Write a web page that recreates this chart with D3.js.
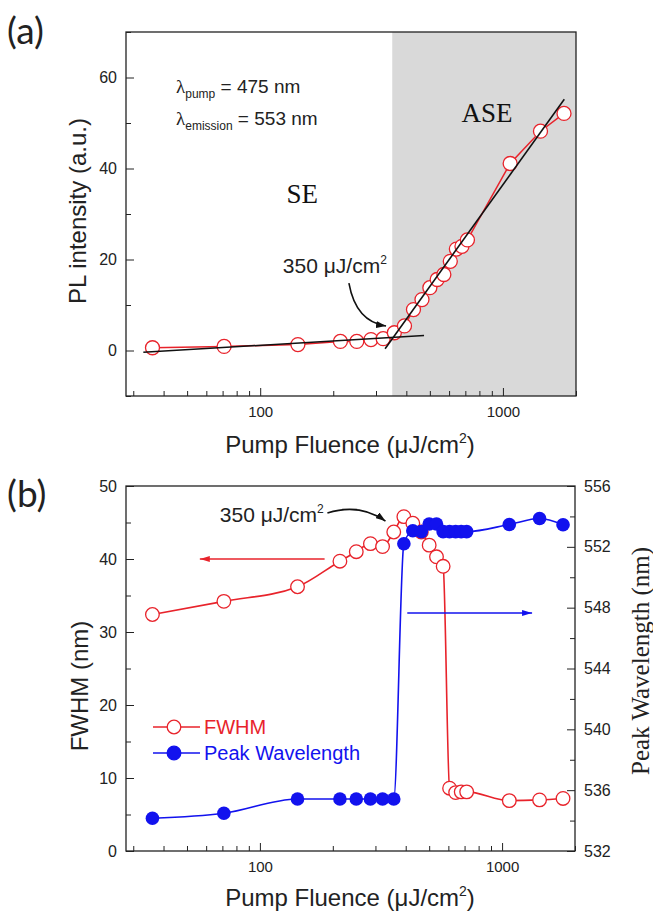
<!DOCTYPE html>
<html>
<head>
<meta charset="utf-8">
<script src="https://cdn.jsdelivr.net/npm/d3@7"></script>
<style>
  body { margin: 0; background: #fff; }
</style>
</head>
<body>
<script>
// pump fluence (uJ/cm2), shared by both panels
const fluence = [36, 71, 143, 214, 250, 286, 321, 357, 393, 428, 464, 500, 536, 571, 607, 643, 678, 714, 1071, 1428, 1785]
// (a) PL intensity (a.u.)
const plIntensity = [0.6, 0.9, 1.3, 2.0, 2.0, 2.4, 2.6, 3.9, 5.4, 9.0, 11.2, 13.8, 15.6, 16.7, 19.6, 22.3, 22.9, 24.3, 41.1, 48.2, 52.1]
// linear fits (in log fluence), endpoints
const fitSE = [[33, -0.4], [473, 3.3]]
const fitASE = [[327, 0.4], [1790, 55.2]]
const aseThreshold = 350
// (b) FWHM (nm) and peak wavelength (nm)
const fwhm = [32.4, 34.2, 36.2, 39.7, 41.0, 42.1, 41.7, 43.7, 45.8, 44.9, 43.7, 41.9, 40.3, 39.0, 8.6, 8.0, 8.1, 8.1, 6.9, 7.0, 7.2]
const peakWl = [534.15, 534.48, 535.42, 535.42, 535.42, 535.42, 535.42, 535.42, 552.2, 553.06, 553.0, 553.5, 553.5, 553.0, 553.0, 553.0, 553.0, 553.0, 553.47, 553.86, 553.45]

const xTicks = [100, 1000]
const yTicksPL = [0, 20, 40, 60]
const yTicksFwhm = [0, 10, 20, 30, 40, 50]
const yTicksWl = [532, 536, 540, 544, 548, 552, 556]

const width = 653, height = 913
const red = "#e8232b", blue = "#1212ee", ink = "#222"
const sans = "Liberation Sans, Arial, sans-serif", serif = "Liberation Serif, Times New Roman, serif"

const svg = d3.select("body").append("svg").attr("width", width).attr("height", height)
  .attr("font-family", sans)

const pa = {left: 126, right: 576, top: 32, bottom: 396}
const pb = {left: 126, right: 575, top: 486, bottom: 851}

const xa = d3.scaleLog().domain([28, 2000]).range([pa.left, pa.right])
const xb = d3.scaleLog().domain([28, 2000]).range([pb.left, pb.right])
const yPL = d3.scaleLinear().domain([-10, 70]).range([pa.bottom, pa.top])
const yF = d3.scaleLinear().domain([0, 50]).range([pb.bottom, pb.top])
const yW = d3.scaleLinear().domain([532, 556]).range([pb.bottom, pb.top])

const defs = svg.append("defs")
const head = (id, color, w, h) => defs.append("marker").attr("id", id)
  .attr("viewBox", `0 0 ${w} ${h}`).attr("refX", w).attr("refY", h / 2)
  .attr("markerWidth", w).attr("markerHeight", h).attr("markerUnits", "userSpaceOnUse")
  .attr("orient", "auto")
  .append("path").attr("d", `M0,0L${w},${h / 2}L0,${h}Z`).attr("fill", color)
head("hk", "#111", 10, 7)
head("hr", red, 10, 6)
head("hb", blue, 10, 6)

const style = g => g.call(s => s.select(".domain").remove())
  .attr("font-family", sans).attr("font-size", 15)
  .attr("color", ink)

function xAxis(x, y0) {
  const minor = x.ticks().filter(v => !xTicks.includes(v))
  svg.append("g").attr("transform", `translate(0,${y0})`)
    .call(d3.axisBottom(x).tickValues(minor).tickSize(-5).tickFormat(""))
    .call(style)
  svg.append("g").attr("transform", `translate(0,${y0})`)
    .call(d3.axisBottom(x).tickValues(xTicks).tickSize(-8).tickPadding(10.5).tickFormat(d3.format("d")))
    .call(style)
}

function yAxis(y, x0, majors, step, right) {
  const minor = d3.range(y.domain()[0], y.domain()[1] + 0.001, step).filter(v => !majors.includes(v))
  const ax = right ? d3.axisRight : d3.axisLeft
  svg.append("g").attr("transform", `translate(${x0},0)`)
    .call(ax(y).tickValues(minor).tickSize(-5).tickFormat(""))
    .call(style)
  svg.append("g").attr("transform", `translate(${x0},0)`)
    .call(ax(y).tickValues(majors).tickSize(-8).tickPadding(9))
    .call(style).attr("font-size", 16)
}

const frame = p => svg.append("rect").attr("x", p.left).attr("y", p.top)
  .attr("width", p.right - p.left).attr("height", p.bottom - p.top)
  .attr("fill", "none").attr("stroke", ink).attr("stroke-width", 1.3)

function curveArrow(x, y, pts, marker) {
  const p = d3.path()
  p.moveTo(x(pts[0][0]), y(pts[0][1]))
  p.quadraticCurveTo(x(pts[1][0]), y(pts[1][1]), x(pts[2][0]), y(pts[2][1]))
  svg.append("path").attr("d", p.toString()).attr("fill", "none")
    .attr("stroke", "#111").attr("stroke-width", 1.6).attr("marker-end", `url(#${marker})`)
}

function fluenceLabel(t) {
  t.append("tspan").text("350 μJ/cm")
  t.append("tspan").text("2").attr("font-size", 12).attr("dy", -9)
}

// ---------- panel (a) ----------
svg.append("rect").attr("x", xa(aseThreshold)).attr("y", pa.top)
  .attr("width", pa.right - xa(aseThreshold)).attr("height", pa.bottom - pa.top)
  .attr("fill", "#d9d9d9")

const dataA = fluence.map((f, i) => ({f, v: plIntensity[i]}))
svg.append("path").datum(dataA)
  .attr("d", d3.line().x(d => xa(d.f)).y(d => yPL(d.v)))
  .attr("fill", "none").attr("stroke", red).attr("stroke-width", 1.5)
svg.append("g").selectAll("circle").data(dataA).join("circle")
  .attr("cx", d => xa(d.f)).attr("cy", d => yPL(d.v)).attr("r", 7)
  .attr("fill", "#fff").attr("stroke", red).attr("stroke-width", 1.3)

for (const fit of [fitSE, fitASE]) {
  svg.append("path").datum(fit)
    .attr("d", d3.line().x(d => xa(d[0])).y(d => yPL(d[1])))
    .attr("stroke", "#111").attr("stroke-width", 1.6)
}

frame(pa)
xAxis(xa, pa.bottom)
yAxis(yPL, pa.left, yTicksPL, 10, false)

const lam = (fl, v, sub, rest) => {
  const t = svg.append("text").attr("x", xa(fl)).attr("y", yPL(v)).attr("font-size", 19).attr("fill", "#222")
  t.append("tspan").text("λ").attr("font-family", serif)
  t.append("tspan").text(sub).attr("font-size", 12).attr("dy", 5)
  t.append("tspan").text(rest).attr("dy", -5)
}
lam(45, 56.6, "pump", " = 475 nm")
lam(45, 49.6, "emission", " = 553 nm")

svg.append("text").attr("x", xa(149)).attr("y", yPL(32.4)).attr("text-anchor", "middle")
  .attr("font-family", serif).attr("font-size", 27).attr("fill", "#111").text("SE")
svg.append("text").attr("x", xa(860)).attr("y", yPL(50.2)).attr("text-anchor", "middle")
  .attr("font-family", serif).attr("font-size", 27).attr("fill", "#111").text("ASE")

svg.append("text").attr("x", xa(124)).attr("y", yPL(17.0)).attr("font-size", 21).attr("fill", "#222")
  .call(fluenceLabel)
curveArrow(xa, yPL, [[232, 14.8], [248, 6.3], [330, 5.4]], "hk")

svg.append("text").attr("x", 7).attr("y", 44).attr("font-family", "Lato, sans-serif")
  .attr("font-size", 37).attr("fill", "#222").text("(a)")

svg.append("text").attr("transform", "translate(86,211) rotate(-90)").attr("text-anchor", "middle")
  .attr("font-size", 24).attr("fill", "#222").text("PL intensity (a.u.)")

const xTitle = y0 => {
  const t = svg.append("text").attr("x", 350).attr("y", y0).attr("text-anchor", "middle")
    .attr("font-size", 24).attr("fill", "#222")
  t.append("tspan").text("Pump Fluence (μJ/cm")
  t.append("tspan").text("2").attr("font-size", 14).attr("dy", -10)
  t.append("tspan").text(")").attr("dy", 10)
}
xTitle(453)

// ---------- panel (b) ----------
const dataB = fluence.map((f, i) => ({f, w: fwhm[i], p: peakWl[i]}))

svg.append("path").datum(dataB)
  .attr("d", d3.line().curve(d3.curveMonotoneX).x(d => xb(d.f)).y(d => yF(d.w)))
  .attr("fill", "none").attr("stroke", red).attr("stroke-width", 1.6)
svg.append("g").selectAll("circle").data(dataB).join("circle")
  .attr("cx", d => xb(d.f)).attr("cy", d => yF(d.w)).attr("r", 6.8)
  .attr("fill", "#fff").attr("stroke", red).attr("stroke-width", 1.3)

svg.append("path").datum(dataB)
  .attr("d", d3.line().curve(d3.curveMonotoneX).x(d => xb(d.f)).y(d => yW(d.p)))
  .attr("fill", "none").attr("stroke", blue).attr("stroke-width", 1.6)
svg.append("g").selectAll("circle").data(dataB).join("circle")
  .attr("cx", d => xb(d.f)).attr("cy", d => yW(d.p)).attr("r", 6.8)
  .attr("fill", blue)

// direction arrows
svg.append("line").attr("x1", xb(185)).attr("x2", xb(56.5)).attr("y1", yF(40)).attr("y2", yF(40))
  .attr("stroke", red).attr("stroke-width", 1.6).attr("marker-end", "url(#hr)")
svg.append("line").attr("x1", xb(406)).attr("x2", xb(1330)).attr("y1", yW(547.65)).attr("y2", yW(547.65))
  .attr("stroke", blue).attr("stroke-width", 1.6).attr("marker-end", "url(#hb)")

svg.append("text").attr("x", xb(68.3)).attr("y", yF(45.07)).attr("font-size", 21).attr("fill", "#222")
  .call(fluenceLabel)
curveArrow(xb, yF, [[190, 46.3], [258, 47.7], [330, 45.2]], "hk")

frame(pb)
xAxis(xb, pb.bottom)
yAxis(yF, pb.left, yTicksFwhm, 5, false)
yAxis(yW, pb.right, yTicksWl, 2, true)

// legend
const legend = [
  {name: "FWHM", color: red, filled: false, y: 727},
  {name: "Peak Wavelength", color: blue, filled: true, y: 753}
]
const lg = svg.append("g").selectAll("g").data(legend).join("g")
  .attr("transform", d => `translate(153,${d.y})`)
lg.append("line").attr("x1", 0).attr("x2", 47).attr("stroke", d => d.color).attr("stroke-width", 1.6)
lg.append("circle").attr("cx", 21).attr("r", 6.8)
  .attr("fill", d => d.filled ? d.color : "#fff").attr("stroke", d => d.color).attr("stroke-width", 1.3)
lg.append("text").attr("x", 51).attr("y", 7).attr("font-size", 20)
  .attr("fill", d => d.color).text(d => d.name)

svg.append("text").attr("x", 7).attr("y", 507).attr("font-family", "Lato, sans-serif")
  .attr("font-size", 37).attr("fill", "#222").text("(b)")

svg.append("text").attr("transform", "translate(88,686) rotate(-90)").attr("text-anchor", "middle")
  .attr("font-size", 24).attr("fill", "#222").text("FWHM (nm)")
svg.append("text").attr("transform", "translate(649,661) rotate(-90)").attr("text-anchor", "middle")
  .attr("font-family", serif).attr("font-size", 25).attr("fill", "#222")
  .text("Peak Wavelength (nm)")
xTitle(906)
</script>
</body>
</html>
